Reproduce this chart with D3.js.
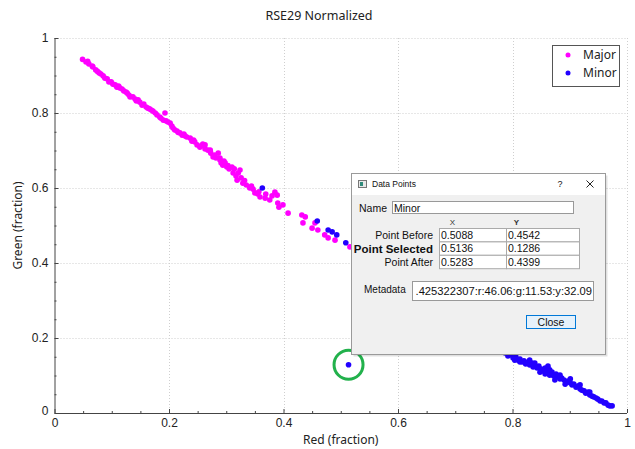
<!DOCTYPE html>
<html><head><meta charset="utf-8">
<script src="https://cdn.jsdelivr.net/npm/d3@7"></script>
<style>
html,body{margin:0;padding:0;background:#fff;}
svg{display:block;}
</style></head>
<body>
<script>
const chartTitle = "RSE29 Normalized";
const xLabel = "Red (fraction)";
const yLabel = "Green (fraction)";
const xTicks = [0, 0.2, 0.4, 0.6, 0.8, 1];
const yTicks = [0, 0.2, 0.4, 0.6, 0.8, 1];
const seriesNames = ["Major", "Minor"];
const seriesColors = ["#ff00ff", "#2200ff"];

const majorPoints = [
[0.049,0.943],[0.055,0.936],[0.060,0.931],[0.066,0.925],[0.067,0.923],[0.072,0.915],[0.078,0.907],[0.081,0.904],
[0.085,0.899],[0.088,0.893],[0.092,0.891],[0.095,0.883],[0.099,0.883],[0.102,0.877],[0.106,0.875],[0.109,0.869],
[0.114,0.867],[0.118,0.864],[0.121,0.859],[0.127,0.853],[0.130,0.848],[0.132,0.843],[0.137,0.843],[0.141,0.837],
[0.146,0.835],[0.149,0.829],[0.153,0.821],[0.156,0.824],[0.160,0.816],[0.163,0.813],[0.169,0.808],[0.172,0.805],
[0.176,0.800],[0.179,0.795],[0.184,0.789],[0.190,0.781],[0.193,0.800],[0.195,0.779],[0.198,0.776],[0.202,0.773],
[0.205,0.765],[0.207,0.760],[0.210,0.755],[0.214,0.752],[0.219,0.747],[0.223,0.741],[0.228,0.739],[0.231,0.736],
[0.237,0.733],[0.240,0.725],[0.245,0.723],[0.249,0.715],[0.254,0.709],[0.259,0.717],[0.263,0.715],[0.263,0.704],
[0.268,0.701],[0.272,0.701],[0.273,0.693],[0.277,0.683],[0.280,0.688],[0.286,0.693],[0.289,0.680],[0.289,0.675],
[0.291,0.667],[0.294,0.661],[0.298,0.667],[0.301,0.656],[0.305,0.651],[0.310,0.656],[0.312,0.640],[0.314,0.651],
[0.317,0.632],[0.319,0.621],[0.324,0.648],[0.326,0.627],[0.329,0.613],[0.335,0.608],[0.341,0.600],[0.347,0.597],
[0.350,0.587],[0.355,0.584],[0.359,0.576],[0.368,0.573],[0.369,0.584],[0.376,0.568],[0.380,0.579],[0.385,0.589],
[0.389,0.581],[0.390,0.560],[0.392,0.549],[0.399,0.555],[0.408,0.533],[0.432,0.528],[0.438,0.523],[0.434,0.507],
[0.450,0.493],[0.455,0.507],[0.460,0.488],[0.472,0.475],[0.478,0.467],[0.490,0.461],[0.516,0.443],
[0.058,0.938],[0.075,0.911],[0.112,0.872],[0.125,0.856],[0.143,0.832],[0.166,0.811],[0.186,0.786],[0.216,0.748],
[0.226,0.744],[0.243,0.728],[0.256,0.712],[0.282,0.680],[0.296,0.672],[0.303,0.660],[0.321,0.640],[0.332,0.620],
[0.344,0.605],[0.357,0.590]
];

const minorPoints = [
[0.363,0.600],[0.459,0.512],[0.478,0.488],[0.485,0.483],[0.493,0.475],[0.5088,0.4542],[0.5283,0.4399],[0.5136,0.1286],
[0.787,0.160],[0.792,0.152],[0.797,0.155],[0.801,0.147],[0.806,0.149],[0.810,0.141],[0.813,0.144],[0.817,0.136],
[0.820,0.139],[0.823,0.131],[0.827,0.136],[0.830,0.128],[0.834,0.133],[0.836,0.123],[0.839,0.125],[0.843,0.120],
[0.846,0.125],[0.850,0.117],[0.853,0.112],[0.857,0.120],[0.860,0.112],[0.864,0.107],[0.865,0.101],[0.869,0.109],
[0.872,0.099],[0.876,0.104],[0.879,0.096],[0.883,0.091],[0.886,0.093],[0.890,0.088],[0.893,0.083],[0.897,0.085],
[0.901,0.080],[0.904,0.075],[0.907,0.077],[0.911,0.069],[0.914,0.072],[0.918,0.064],[0.921,0.061],[0.925,0.059],
[0.928,0.053],[0.932,0.056],[0.935,0.048],[0.939,0.045],[0.942,0.043],[0.946,0.040],[0.949,0.037],[0.953,0.032],
[0.956,0.032],[0.960,0.027],[0.963,0.027],[0.967,0.021],[0.970,0.019],[0.974,0.019],
[0.830,0.141],[0.839,0.133],[0.848,0.109],[0.857,0.104],[0.865,0.115],[0.874,0.088],[0.862,0.125],[0.883,0.101],
[0.892,0.077],[0.901,0.091],[0.813,0.136],[0.804,0.141],[0.918,0.075],[0.935,0.056]
];

const selectedPoint = [0.5136, 0.1286];
const dialogTitle = "Data Points";
const dialogName = "Minor";
const rowLabels = ["Point Before", "Point Selected", "Point After"];
const rowX = ["0.5088", "0.5136", "0.5283"];
const rowY = ["0.4542", "0.1286", "0.4399"];
const metadataText = ".425322307:r:46.06:g:11.53:y:32.09";

const W = 635, H = 449;
const svg = d3.select("body").append("svg").attr("width", W).attr("height", H);

const x = d3.scaleLinear().domain([0, 1]).range([54.5, 627]);
const y = d3.scaleLinear().domain([0, 1]).range([413, 38]);

const labelFont = "'Liberation Sans', Arial, sans-serif";
const titleFont = "'Noto Sans', 'Open Sans', sans-serif";

// grid
const grid = svg.append("g").attr("stroke", "#cfcfcf").attr("stroke-dasharray", "1,2").attr("stroke-width", 1);
xTicks.filter(d => d > 0).forEach(t => {
  grid.append("line").attr("x1", Math.round(x(t)) + 0.5).attr("x2", Math.round(x(t)) + 0.5).attr("y1", y(1)).attr("y2", y(0));
});
yTicks.filter(d => d > 0).forEach(t => {
  grid.append("line").attr("x1", x(0)).attr("x2", x(1)).attr("y1", Math.round(y(t)) + 0.5).attr("y2", Math.round(y(t)) + 0.5);
});

// axes
const minor = d3.range(0, 1.0001, 0.05);
const xAxis = d3.axisTop(x).tickValues(minor).tickSize(3).tickFormat("");
const gx = svg.append("g").attr("transform", `translate(0,${y(0)})`).call(xAxis);
gx.select(".domain").remove();
gx.selectAll("line").attr("stroke", "#444").attr("y2", (d) => (Math.abs(d * 5 - Math.round(d * 5)) < 1e-6 ? -4 : -2));
const xLab = d3.axisBottom(x).tickValues(xTicks).tickSize(0).tickPadding(4).tickFormat(d3.format("~g"));
const gxl = svg.append("g").attr("transform", `translate(0,${y(0) + 1})`).call(xLab);
gxl.select(".domain").remove();
gxl.selectAll("text").attr("font-family", labelFont).attr("font-size", 12).attr("fill", "#222");

const yAxis = d3.axisRight(y).tickValues(minor).tickSize(3).tickFormat("");
const gy = svg.append("g").attr("transform", `translate(${x(0)},0)`).call(yAxis);
gy.select(".domain").remove();
gy.selectAll("line").attr("stroke", "#444").attr("x2", (d) => (Math.abs(d * 5 - Math.round(d * 5)) < 1e-6 ? 4 : 2));
const yLab = d3.axisLeft(y).tickValues(yTicks).tickSize(0).tickPadding(6).tickFormat(d3.format("~g"));
const gyl = svg.append("g").attr("transform", `translate(${x(0)},0)`).call(yLab);
gyl.select(".domain").remove();
gyl.selectAll("text").attr("font-family", labelFont).attr("font-size", 12).attr("fill", "#222");
gyl.selectAll(".tick").filter(d => d === 0).select("text").attr("dy", "0.1em");

svg.append("line").attr("x1", x(0)).attr("x2", x(1)).attr("y1", y(0) + 0.5).attr("y2", y(0) + 0.5).attr("stroke", "#444");
svg.append("line").attr("x1", x(0) + 0.5).attr("x2", x(0) + 0.5).attr("y1", y(1)).attr("y2", y(0)).attr("stroke", "#444");

// titles
svg.append("text").attr("x", 319).attr("y", 20).attr("text-anchor", "middle")
  .attr("font-family", titleFont).attr("font-size", 12.5).attr("fill", "#222").text(chartTitle);
svg.append("text").attr("x", (x(0) + x(1)) / 2).attr("y", 444).attr("text-anchor", "middle")
  .attr("font-family", titleFont).attr("font-size", 12).attr("fill", "#222").text(xLabel);
svg.append("text").attr("transform", `translate(22,${(y(0) + y(1)) / 2}) rotate(-90)`).attr("text-anchor", "middle")
  .attr("font-family", titleFont).attr("font-size", 12).attr("fill", "#222").text(yLabel);

// points
const series = [majorPoints, minorPoints];
series.forEach((pts, i) => {
  svg.append("g").selectAll("circle").data(pts).join("circle")
    .attr("cx", d => x(d[0])).attr("cy", d => y(d[1])).attr("r", 2.8)
    .attr("fill", seriesColors[i]);
});

// highlight circle
svg.append("circle").attr("cx", x(selectedPoint[0])).attr("cy", y(selectedPoint[1]))
  .attr("r", 14.5).attr("fill", "none").attr("stroke", "#22b14c").attr("stroke-width", 3);

// legend
const lg = svg.append("g");
lg.append("rect").attr("x", 552.5).attr("y", 45.5).attr("width", 67).attr("height", 41)
  .attr("fill", "#fff").attr("stroke", "#555");
seriesNames.forEach((n, i) => {
  lg.append("circle").attr("cx", 568).attr("cy", 55 + i * 18).attr("r", 2.5).attr("fill", seriesColors[i]);
  lg.append("text").attr("x", 583).attr("y", 55 + i * 18).attr("dy", "0.35em")
    .attr("font-family", titleFont).attr("font-size", 12).attr("fill", "#222").text(n);
});

// dialog
const dlg = svg.append("g");
const dx0 = 351.5, dy0 = 173.5, dw = 254, dh = 181;
dlg.append("rect").attr("x", dx0 + 2).attr("y", dy0 + 2).attr("width", dw).attr("height", dh).attr("fill", "rgba(0,0,0,0.12)");
dlg.append("rect").attr("x", dx0).attr("y", dy0).attr("width", dw).attr("height", dh).attr("fill", "#f0f0f0").attr("stroke", "#9a9a9a");
dlg.append("rect").attr("x", dx0 + 0.5).attr("y", dy0 + 0.5).attr("width", dw - 1).attr("height", 21).attr("fill", "#fff");
// icon
dlg.append("rect").attr("x", 358.5).attr("y", 180.5).attr("width", 8).attr("height", 7).attr("fill", "#e8e8e8").attr("stroke", "#777");
dlg.append("rect").attr("x", 360).attr("y", 182).attr("width", 3).attr("height", 4).attr("fill", "#2f8a7a");
dlg.append("text").attr("x", 372).attr("y", 187).attr("font-family", labelFont).attr("font-size", 8.5).attr("fill", "#111").text(dialogTitle);
dlg.append("text").attr("x", 560).attr("y", 187).attr("text-anchor", "middle").attr("font-family", labelFont).attr("font-size", 9).attr("fill", "#111").text("?");
dlg.append("path").attr("d", "M586.5,180.5 L593.5,187.5 M593.5,180.5 L586.5,187.5").attr("stroke", "#222").attr("stroke-width", 1);

const bodyFont = "'Liberation Sans', Arial, sans-serif";
dlg.append("text").attr("x", 359).attr("y", 212).attr("font-family", bodyFont).attr("font-size", 10.5).attr("fill", "#111").text("Name");
dlg.append("rect").attr("x", 392.5).attr("y", 201.5).attr("width", 181).attr("height", 12).attr("fill", "#fff").attr("stroke", "#999");
dlg.append("text").attr("x", 394).attr("y", 212).attr("font-family", bodyFont).attr("font-size", 10.5).attr("fill", "#111").text(dialogName);

dlg.append("text").attr("x", 452.5).attr("y", 225).attr("text-anchor", "middle").attr("font-family", bodyFont).attr("font-size", 8).attr("fill", "#333").text("X");
dlg.append("text").attr("x", 516.5).attr("y", 225).attr("text-anchor", "middle").attr("font-family", bodyFont).attr("font-size", 8).attr("font-weight", "bold").attr("fill", "#333").text("Y");

const rowH = 13.4;
rowLabels.forEach((lab, i) => {
  const ry = 228.5 + i * rowH;
  dlg.append("rect").attr("x", 439.5).attr("y", ry).attr("width", 67).attr("height", rowH).attr("fill", "#fff").attr("stroke", "#aaa");
  dlg.append("rect").attr("x", 506.5).attr("y", ry).attr("width", 73).attr("height", rowH).attr("fill", "#fff").attr("stroke", "#aaa");
  dlg.append("text").attr("x", 441).attr("y", ry + rowH / 2).attr("dy", "0.36em").attr("font-family", bodyFont).attr("font-size", 10.5).attr("fill", "#111").text(rowX[i]);
  dlg.append("text").attr("x", 508).attr("y", ry + rowH / 2).attr("dy", "0.36em").attr("font-family", bodyFont).attr("font-size", 10.5).attr("fill", "#111").text(rowY[i]);
  dlg.append("text").attr("x", 433).attr("y", ry + rowH / 2).attr("dy", "0.36em").attr("text-anchor", "end")
    .attr("font-family", bodyFont).attr("font-size", i === 1 ? 11.5 : 10.5).attr("font-weight", i === 1 ? "bold" : "normal").attr("fill", "#111").text(lab);
});

dlg.append("text").attr("x", 364).attr("y", 293).attr("font-family", bodyFont).attr("font-size", 10).attr("fill", "#111").text("Metadata");
dlg.append("rect").attr("x", 412.5).attr("y", 281.5).attr("width", 181).attr("height", 19).attr("fill", "#fff").attr("stroke", "#999");
svg.append("defs").append("clipPath").attr("id", "mclip").append("rect").attr("x", 413).attr("y", 282).attr("width", 180).attr("height", 18);
dlg.append("text").attr("x", 592).attr("y", 291).attr("dy", "0.36em").attr("text-anchor", "end").attr("clip-path", "url(#mclip)")
  .attr("font-family", bodyFont).attr("font-size", 11.2).attr("fill", "#111").text(metadataText);

dlg.append("rect").attr("x", 526.5).attr("y", 315.5).attr("width", 49).attr("height", 13).attr("fill", "#e5f1fb").attr("stroke", "#0078d7");
dlg.append("text").attr("x", 551).attr("y", 322).attr("dy", "0.36em").attr("text-anchor", "middle").attr("font-family", bodyFont).attr("font-size", 10.5).attr("fill", "#111").text("Close");
</script>
</body></html>
